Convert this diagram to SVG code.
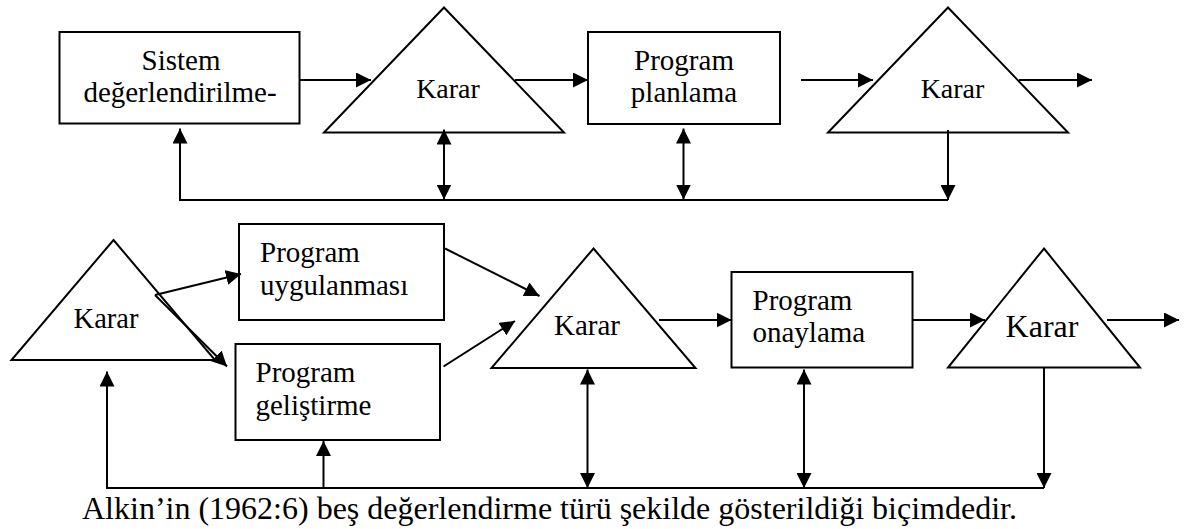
<svg xmlns="http://www.w3.org/2000/svg" width="1197" height="529" viewBox="0 0 1197 529">
  <style>
    .shape { fill: #fff; stroke: #000; stroke-width: 2; stroke-linejoin: miter; }
    .lbl { font-family: "Liberation Serif", "Times New Roman", serif; font-size: 29px; fill: #000; }
    .mid { text-anchor: middle; }
    .wire { fill: none; stroke: #000; stroke-width: 2; }
    .one { marker-end: url(#head); }
    .two { marker-start: url(#head); marker-end: url(#head); }
    .caption { font-family: "Liberation Serif", "Times New Roman", serif; font-size: 32px; fill: #000; }
  </style>
  <defs>
    <marker id="head" markerUnits="userSpaceOnUse" markerWidth="15" markerHeight="15" refX="15" refY="7.5" orient="auto-start-reverse">
      <path d="M0,0 L15,7.5 L0,15 Z" fill="#000"/>
    </marker>
  </defs>

  <rect width="1197" height="529" fill="#fff"/>

  <!-- upper row -->
  <g id="sistem-degerlendirme">
    <rect class="shape" x="59.5" y="32" width="240" height="91.5"/>
    <text class="lbl mid" x="181" y="70">Sistem</text>
    <text class="lbl mid" x="180" y="101.5">değerlendirilme-</text>
  </g>
  <g id="karar-1">
    <polygon class="shape" points="444,7.5 564,132.5 324,132.5"/>
    <text class="lbl mid" x="448" y="98" style="font-size:28px">Karar</text>
  </g>
  <g id="program-planlama">
    <rect class="shape" x="588" y="32" width="192" height="92"/>
    <text class="lbl mid" x="684" y="70">Program</text>
    <text class="lbl mid" x="684" y="101.5">planlama</text>
  </g>
  <g id="karar-2">
    <polygon class="shape" points="948,7.5 1068,132.5 828,132.5"/>
    <text class="lbl mid" x="952.5" y="98" style="font-size:28px">Karar</text>
  </g>

  <!-- lower row -->
  <g id="karar-3">
    <polygon class="shape" points="113.5,240 215,360 11.5,360"/>
    <text class="lbl mid" x="106" y="327.5" style="font-size:28.5px">Karar</text>
  </g>
  <g id="program-uygulanmasi">
    <rect class="shape" x="239" y="224" width="205" height="96"/>
    <text class="lbl" x="260" y="261.5">Program</text>
    <text class="lbl" x="260" y="295">uygulanması</text>
  </g>
  <g id="program-gelistirme">
    <rect class="shape" x="235.5" y="344" width="204.5" height="96"/>
    <text class="lbl" x="255.5" y="381.5">Program</text>
    <text class="lbl" x="255.5" y="415">geliştirme</text>
  </g>
  <g id="karar-4">
    <polygon class="shape" points="593.5,248.5 695.5,368 491.5,368"/>
    <text class="lbl mid" x="587" y="335">Karar</text>
  </g>
  <g id="program-onaylama">
    <rect class="shape" x="731.5" y="272" width="181" height="95.5"/>
    <text class="lbl" x="752.5" y="310">Program</text>
    <text class="lbl" x="752.5" y="342">onaylama</text>
  </g>
  <g id="karar-5">
    <polygon class="shape" points="1044,248.5 1140,367.5 948,367.5"/>
    <text class="lbl mid" x="1042" y="337" style="font-size:32px">Karar</text>
  </g>

  <!-- connectors -->
  <g id="connectors">
    <path class="wire one" d="M300,80 H371"/>
    <path class="wire one" d="M515,80 H588"/>
    <path class="wire one" d="M801,80 H873"/>
    <path class="wire one" d="M1019,80 H1092"/>
    <path class="wire one" d="M948,130 V200"/>
    <path class="wire one" d="M948,200 H180 V128.5"/>
    <path class="wire two" d="M444,129.5 V199.5"/>
    <path class="wire two" d="M683.5,128.5 V199.5"/>

    <path class="wire one" d="M155,295 L241,274"/>
    <path class="wire one" d="M155,295 L227,366.5"/>
    <path class="wire one" d="M445,248.5 L539.5,296"/>
    <path class="wire one" d="M443.5,366.5 L515,321"/>
    <path class="wire one" d="M659,320 H731.5"/>
    <path class="wire one" d="M912.5,320 H985"/>
    <path class="wire one" d="M1107,320 H1179"/>
    <path class="wire one" d="M1044,367.5 V488"/>
    <path class="wire one" d="M1044,488 H107 V371.5"/>
    <path class="wire one" d="M323.5,488 V441"/>
    <path class="wire two" d="M587.5,369.5 V488"/>
    <path class="wire two" d="M804,369.5 V488"/>
  </g>

  <text class="caption" x="82" y="519">Alkin’in (1962:6) beş değerlendirme türü şekilde gösterildiği biçimdedir.</text>
</svg>
